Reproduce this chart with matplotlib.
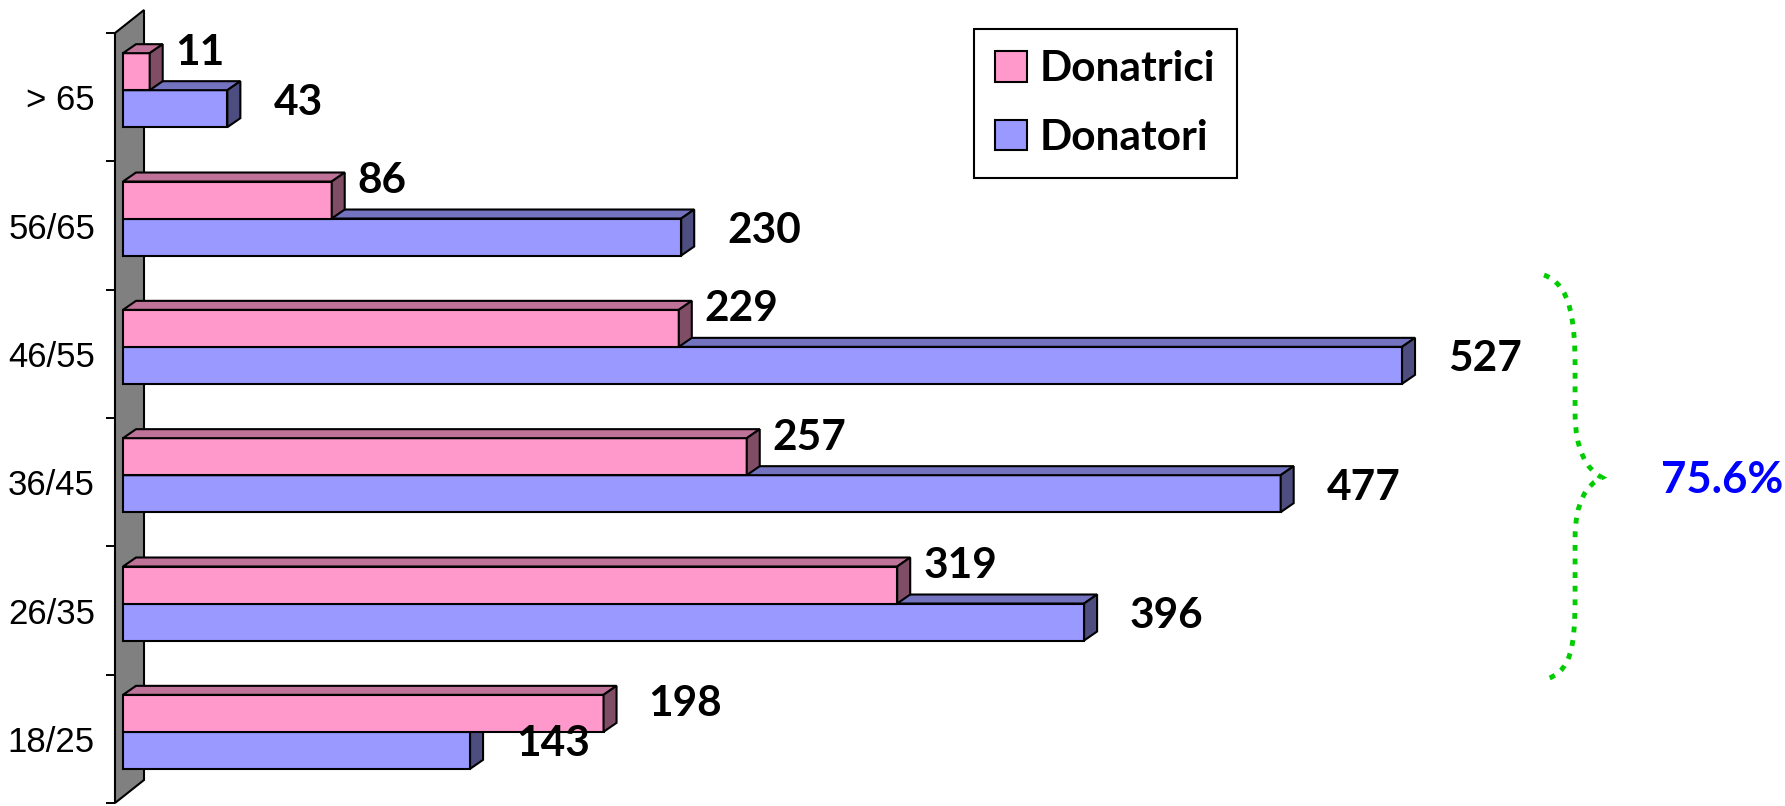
import matplotlib
matplotlib.use('Agg')
import matplotlib.pyplot as plt
from matplotlib.patches import Polygon, Patch, PathPatch
from matplotlib.path import Path
from matplotlib.font_manager import FontProperties
import numpy as np

# data
categories = ['18/25', '26/35', '36/45', '46/55', '56/65', '> 65']
donatrici = [198, 319, 257, 229, 86, 11]
donatori = [143, 396, 477, 527, 230, 43]
series_names = ['Donatrici', 'Donatori']
share_label = '75.6%'

# colours (front, top, side)
pink = ('#FF99CC', '#C07399', '#804D66')
blue = ('#9999FF', '#7373BF', '#4D4D80')

W, H = 1785, 806
PX = 2.427      # pixels per donor
CAT = 128.33    # pixels per category
fig = plt.figure(figsize=(W / 100, H / 100), dpi=100)
left_px = 115
ax = fig.add_axes([left_px / W, 3 / H, (W - left_px) / W, 6 * CAT / H])
x0 = -(123 - left_px) / PX
ax.set_xlim(x0, x0 + (W - left_px) / PX)
ax.set_ylim(-0.5, 5.5)

# grey wall
wdx, wdy = 29 / PX, 23 / CAT
wall = Polygon([(x0, -0.5), (x0, 5.5), (x0 + wdx, 5.5 + wdy), (x0 + wdx, -0.5 + wdy)],
               closed=True, facecolor='#808080', edgecolor='black', lw=1.5,
               zorder=1, clip_on=False)
ax.add_patch(wall)

y = np.arange(len(categories))
BH = 37 / CAT
DX, DY = 13 / PX, 9 / CAT
pink_y = y + 7 / CAT + BH / 2
blue_y = y + 7 / CAT - BH / 2


def bar3d(ys, vals, cols, z):
    ax.barh(ys, vals, height=BH, color=cols[0], edgecolor='black', lw=1.5,
            zorder=z, clip_on=False)
    for yc, v in zip(ys, vals):
        yt, yb = yc + BH / 2, yc - BH / 2
        top = Polygon([(0, yt), (DX, yt + DY), (v + DX, yt + DY), (v, yt)],
                      closed=True, facecolor=cols[1], edgecolor='black', lw=1.5,
                      zorder=z, clip_on=False)
        side = Polygon([(v, yb), (v, yt), (v + DX, yt + DY), (v + DX, yb + DY)],
                       closed=True, facecolor=cols[2], edgecolor='black', lw=1.5,
                       zorder=z, clip_on=False)
        ax.add_patch(top)
        ax.add_patch(side)


bar3d(blue_y, donatori, blue, 2)
bar3d(pink_y, donatrici, pink, 3)

lab_font = FontProperties(family='Lato', weight='bold', size=30.5)
for i in range(len(categories)):
    vb = donatori[i]
    ax.annotate(str(vb), xy=(vb, blue_y[i]), xytext=(33.1, 4.3),
                textcoords='offset points', ha='left', va='center',
                fontproperties=lab_font, zorder=5)
    vp = donatrici[i]
    if vp < vb:
        off = (18.7, 13.7)
    else:
        off = (32.4, 6.5)
    ax.annotate(str(vp), xy=(vp, pink_y[i]), xytext=off,
                textcoords='offset points', ha='left', va='center',
                fontproperties=lab_font, zorder=5)

# axis ticks / labels
ax.set_yticks(np.arange(-0.5, len(categories), 1))
ax.set_yticks(y, minor=True)
ax.set_yticklabels(categories, minor=True, fontfamily='Liberation Sans', fontsize=25)
ax.tick_params(axis='y', which='major', length=6.5, width=1.4, direction='out',
               labelleft=False)
ax.tick_params(axis='y', which='minor', length=0, pad=14.4)
for s in ax.spines.values():
    s.set_visible(False)
ax.xaxis.set_visible(False)
ax.patch.set_visible(False)

# legend
handles = [Patch(facecolor=pink[0], edgecolor='black', lw=1.5),
           Patch(facecolor=blue[0], edgecolor='black', lw=1.5)]
leg = fig.legend(handles, series_names, loc='upper left',
                 bbox_to_anchor=(974 / W, 1 - 29 / H), prop=lab_font,
                 frameon=True, fancybox=False, edgecolor='black', framealpha=1,
                 handlelength=0.74, handleheight=0.74, handletextpad=0.32,
                 borderpad=0.5, labelspacing=0.72, borderaxespad=0)
leg.get_frame().set_linewidth(1.5)

# green brace
xb, xm, xt = 585.5, 598.3, 609.4
ylo, yhi = 0.458, 3.614
ymid = (ylo + yhi) / 2
verts = [(xb, yhi),
         (596.5, 3.54), (xm, 3.26), (xm, 2.90),
         (xm, 2.55),
         (xm, 2.25), (603.0, 2.10), (xt, ymid),
         (603.0, 1.98), (xm, 1.85), (xm, 1.55),
         (xm, 1.10),
         (xm, 0.70), (596.5, 0.52), (xb, ylo)]
codes = [Path.MOVETO,
         Path.CURVE4, Path.CURVE4, Path.CURVE4,
         Path.LINETO,
         Path.CURVE4, Path.CURVE4, Path.CURVE4,
         Path.CURVE4, Path.CURVE4, Path.CURVE4,
         Path.LINETO,
         Path.CURVE4, Path.CURVE4, Path.CURVE4]
brace = PathPatch(Path(verts, codes), facecolor='none', edgecolor='#00CC00',
                  lw=3.5, linestyle=(0, (1.2, 1.6)), capstyle='butt',
                  clip_on=False, zorder=4)
ax.add_patch(brace)
ax.text(633.7, 2.017, share_label, ha='left', va='center', color='#0000FF',
        fontproperties=FontProperties(family='Lato', weight='bold', size=31.5))

fig.savefig('out.png', dpi=100)
